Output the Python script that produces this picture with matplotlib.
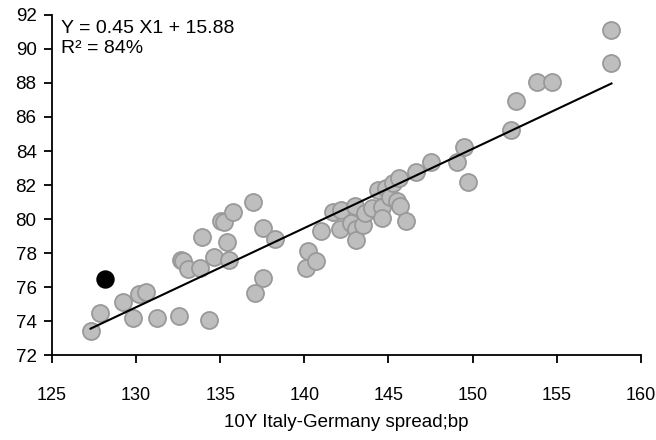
import numpy as np
import matplotlib
matplotlib.use("Agg")
import matplotlib.pyplot as plt

plt.rcParams['font.family'] = ['Liberation Sans', 'DejaVu Sans']

# 10Y Italy-Germany spread (bp) vs. y value
spread = [127.3, 127.85, 129.24, 129.83, 130.17, 130.59, 131.22, 132.57, 132.65, 132.8,
          133.1, 133.8, 133.95, 134.35, 134.64, 135.08, 135.2, 135.38, 135.54, 135.74,
          136.97, 137.1, 137.52, 137.52, 138.25, 140.13, 140.23, 140.69, 140.97, 141.7,
          142.1, 142.2, 142.8, 143.0, 143.06, 143.06, 143.5, 143.6, 144.0, 144.39,
          144.59, 144.59, 144.85, 145.08, 145.28, 145.52, 145.64, 145.68, 146.03, 146.61,
          147.52, 149.05, 149.5, 149.74, 152.27, 152.6, 153.8, 154.73, 158.25, 158.25]
yvals = [73.4, 74.45, 75.14, 74.2, 75.6, 75.7, 74.16, 74.3, 77.6, 77.55,
         77.04, 77.1, 78.96, 74.06, 77.78, 79.88, 79.84, 78.67, 77.59, 80.43,
         81.02, 75.63, 76.55, 79.45, 78.8, 77.1, 78.14, 77.53, 79.3, 80.43,
         79.4, 80.56, 79.78, 80.76, 79.4, 78.76, 79.65, 80.33, 80.63, 81.7,
         80.69, 80.04, 81.8, 81.31, 82.1, 81.08, 82.39, 80.76, 79.9, 82.78,
         83.37, 83.37, 84.25, 82.18, 85.24, 86.96, 88.08, 88.08, 91.12, 89.16]
latest_x = [128.15]
latest_y = [76.5]

eq_text = "Y = 0.45 X1 + 15.88\nR\u00b2 = 84%"
x_label = "10Y Italy-Germany spread;bp"

fig = plt.figure(figsize=(6.56, 4.4), dpi=100)
ax = fig.add_axes([0.079, 0.193, 0.898, 0.773])

ax.scatter(spread, yvals, s=150, facecolor='#bebebe', edgecolor='#999999',
           linewidth=1.3, zorder=2)
ax.scatter(latest_x, latest_y, s=150, facecolor='black', edgecolor='black', zorder=3)

# fitted line
slope, intercept = np.polyfit(spread, yvals, 1)
xs = np.array([min(spread), max(spread)])
ax.plot(xs, slope * xs + intercept, color='black', linewidth=1.5, zorder=4)

ax.set_xlim(125, 160)
ax.set_ylim(72, 92)
ax.set_xticks(np.arange(125, 161, 5))
ax.set_yticks(np.arange(72, 93, 2))

for s in ['top', 'right']:
    ax.spines[s].set_visible(False)
for s in ['left', 'bottom']:
    ax.spines[s].set_linewidth(1.3)

ax.tick_params(axis='x', direction='out', length=6, width=1.3, pad=17, labelsize=13)
ax.tick_params(axis='y', direction='out', length=6, width=1.3, pad=5, labelsize=13.5)
ax.set_xlabel(x_label, fontsize=13.5, labelpad=7)

ax.text(0.016, 0.985, eq_text, transform=ax.transAxes, fontsize=14,
        va='top', ha='left', linespacing=1.25)

fig.savefig("out.png", dpi=100)
